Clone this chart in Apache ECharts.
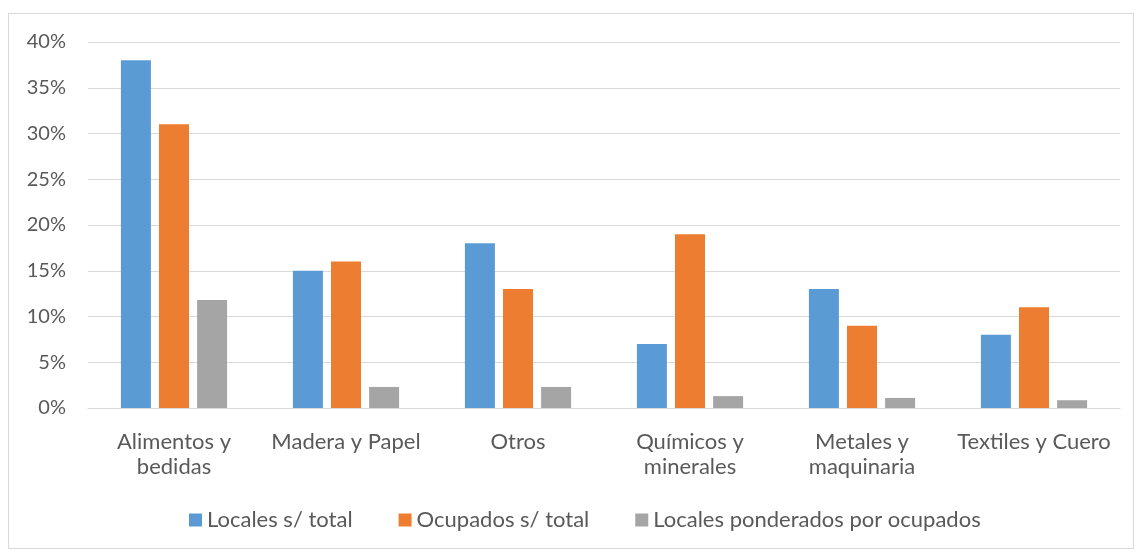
<!DOCTYPE html>
<html>
<head>
<meta charset="utf-8">
<script src="https://cdn.jsdelivr.net/npm/echarts@6/dist/echarts.min.js"></script>
<style>
html,body{margin:0;padding:0;background:#fff;}
#frame{position:absolute;left:8px;top:13px;width:1126px;height:536px;border:1px solid #d9d9d9;box-sizing:border-box;}
#chart{position:absolute;left:0;top:0;width:1140px;height:553px;}
</style>
</head>
<body>
<div id="frame"></div>
<div id="chart"></div>
<script>
const categories = ["Alimentos y\nbedidas", "Madera y Papel", "Otros", "Químicos y\nminerales", "Metales y\nmaquinaria", "Textiles y Cuero"];
const seriesNames = ["Locales s/ total", "Ocupados s/ total", "Locales ponderados por ocupados"];
const localesTotal = [38, 15, 18, 7, 13, 8];
const ocupadosTotal = [31, 16, 13, 19, 9, 11];
const localesPonderados = [11.8, 2.3, 2.3, 1.3, 1.1, 0.85];
const yTicks = [0, 5, 10, 15, 20, 25, 30, 35, 40];

const colors = ["#5b9bd5", "#ed7d31", "#a5a5a5"];
const font = "Lato, 'Open Sans', sans-serif";

const chart = echarts.init(document.getElementById('chart'), null, {renderer: 'canvas'});
const data = [localesTotal, ocupadosTotal, localesPonderados];
chart.setOption({
  animation: false,
  backgroundColor: 'transparent',
  textStyle: {fontFamily: font},
  grid: {left: 88, right: 20, top: 42, bottom: 145, containLabel: false},
  legend: {
    top: 509,
    left: 189,
    padding: 0,
    itemWidth: 13,
    itemHeight: 13,
    itemGap: 46,
    icon: 'rect',
    textStyle: {fontFamily: font, fontSize: 22, color: '#595959'},
    data: seriesNames
  },
  xAxis: {
    type: 'category',
    data: categories,
    axisLine: {lineStyle: {color: '#d9d9d9', width: 1}},
    axisTick: {show: false},
    axisLabel: {fontFamily: font, fontSize: 22, color: '#595959', margin: 21, lineHeight: 25, interval: 0}
  },
  yAxis: {
    type: 'value',
    min: yTicks[0],
    max: yTicks[yTicks.length - 1],
    interval: 5,
    axisLine: {show: false},
    axisTick: {show: false},
    splitLine: {lineStyle: {color: '#d9d9d9', width: 1}},
    axisLabel: {fontFamily: font, fontSize: 20, color: '#595959', margin: 22, formatter: v => v + '%'}
  },
  series: seriesNames.map((n, i) => ({
    name: n,
    type: 'bar',
    data: data[i],
    barWidth: 30,
    barGap: '27%',
    itemStyle: {color: colors[i]}
  }))
});
</script>
</body>
</html>
